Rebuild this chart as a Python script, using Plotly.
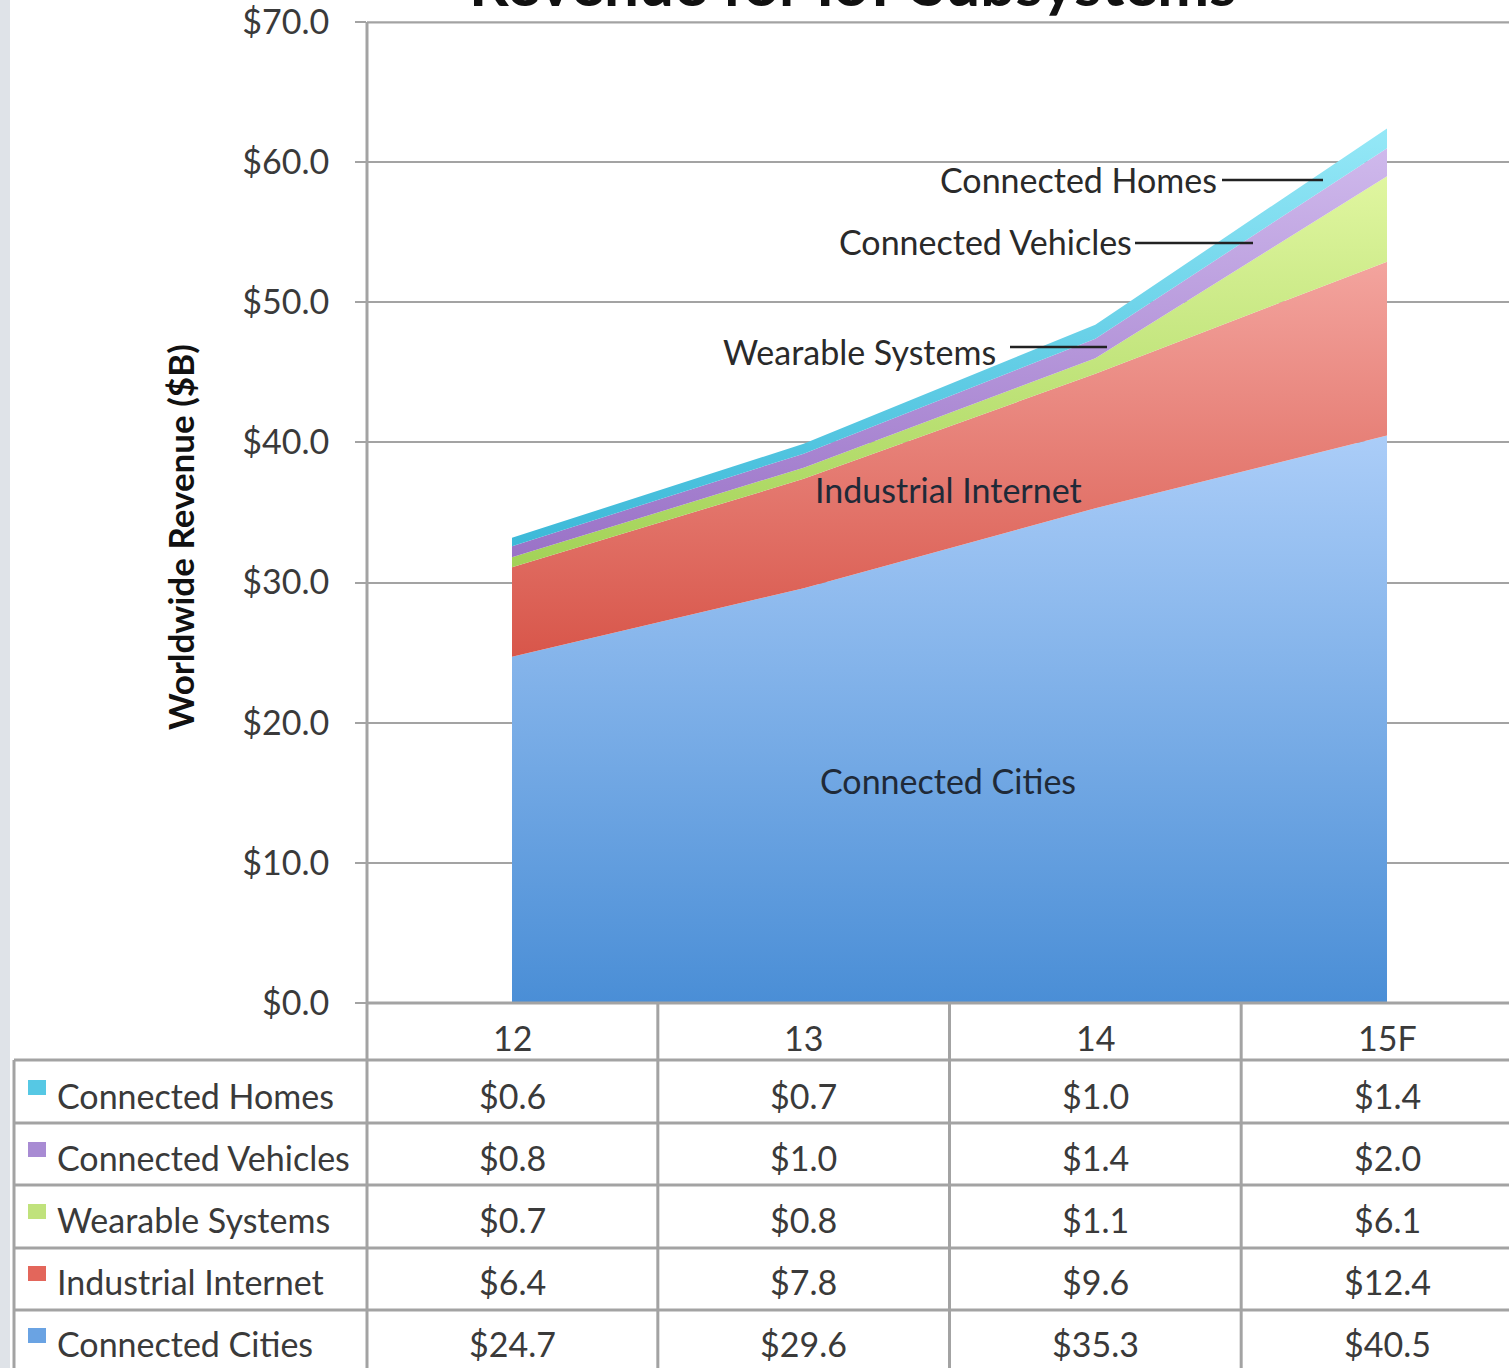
import plotly.graph_objects as go

# ---- data -------------------------------------------------------------
periods = ["12", "13", "14", "15F"]
connected_cities = [24.7, 29.6, 35.3, 40.5]
industrial_internet = [6.4, 7.8, 9.6, 12.4]
wearable_systems = [0.7, 0.8, 1.1, 6.1]
connected_vehicles = [0.8, 1.0, 1.4, 2.0]
connected_homes = [0.6, 0.7, 1.0, 1.4]

y_ticks = [0, 10, 20, 30, 40, 50, 60, 70]
y_tick_labels = [f"${v:.1f}" for v in y_ticks]

# ---- page geometry (pixels) -------------------------------------------
W, H = 1509, 1368
PLOT_LEFT, PLOT_TOP, PLOT_BOTTOM = 367, 22, 1003
Y_MAX = 70
Y_PAD = 0.05  # tiny headroom so the top tick stays inside the axis range
CAT0_X, CAT_STEP = 512, 291.67
TABLE_LEFT = 14
ROW_LINES = [1060, 1123, 1185, 1248, 1310]
ROW_CENTERS = [1096, 1158, 1220, 1282, 1344]
HEADER_Y = 1037

FONT = "Lato"
FS = 34
LABEL = "#3a3a3a"
GRID = "#a3a3a3"

PX_PER_UNIT = (PLOT_BOTTOM - PLOT_TOP) / Y_MAX


def fx(p):
    return p / W


def fy(p):
    return 1 - p / H


x_idx = list(range(len(periods)))
x_lo = (PLOT_LEFT - CAT0_X) / CAT_STEP
x_hi = (W - CAT0_X) / CAT_STEP
top_px = PLOT_TOP - Y_PAD * PX_PER_UNIT

# stacking order (bottom to top) with vertical colour gradients
layers = [
    ("Connected Cities", connected_cities, "#4a8ed6", "#abcdf8"),
    ("Industrial Internet", industrial_internet, "#d8564a", "#f3a49e"),
    ("Wearable Systems", wearable_systems, "#a2d257", "#e0f6a0"),
    ("Connected Vehicles", connected_vehicles, "#9a72c7", "#cfb9ec"),
    ("Connected Homes", connected_homes, "#3cb9d8", "#95e8f7"),
]

fig = go.Figure()
base = [0.0] * len(periods)
for name, vals, c_lo, c_hi in layers:
    top = [b + v for b, v in zip(base, vals)]
    g_start = 0.0 if name == "Connected Cities" else min(base)
    g_stop = max(top)
    fig.add_trace(go.Scatter(
        x=x_idx, y=vals, name=name, stackgroup="one", mode="lines",
        line=dict(width=0),
        fillgradient=dict(type="vertical", start=g_start, stop=g_stop,
                          colorscale=[[0, c_lo], [1, c_hi]]),
        hoverinfo="skip", showlegend=False,
    ))
    base = top

fig.update_layout(
    width=W, height=H, margin=dict(l=0, r=0, t=0, b=0, autoexpand=False),
    paper_bgcolor="white", plot_bgcolor="white",
    font=dict(family=FONT, color=LABEL, size=FS),
    showlegend=False,
    xaxis=dict(domain=[fx(PLOT_LEFT), 1], range=[x_lo, x_hi],
               showticklabels=False, showgrid=False, zeroline=False,
               ticks="", fixedrange=True, automargin=False),
    yaxis=dict(domain=[fy(PLOT_BOTTOM), fy(top_px)], range=[0, Y_MAX + Y_PAD],
               tickvals=y_ticks, ticktext=y_tick_labels,
               showgrid=True, gridcolor=GRID, gridwidth=2,
               zeroline=False, ticks="outside", ticklen=11,
               tickcolor=GRID, tickwidth=2, ticklabelstandoff=19,
               ticklabeloverflow="allow",
               tickfont=dict(family=FONT, size=FS, color=LABEL),
               fixedrange=True, automargin=False),
)

shapes = []
# left page strip
shapes.append(dict(type="rect", xref="paper", yref="paper", x0=0, x1=fx(10),
                   y0=0, y1=1, fillcolor="#dfe3e8", line_width=0, layer="below"))
# top gridline at the axis maximum
shapes.append(dict(type="line", xref="paper", yref="y",
                   x0=fx(PLOT_LEFT), x1=1, y0=Y_MAX, y1=Y_MAX,
                   line=dict(color=GRID, width=3)))
# vertical axis spine down through the table
shapes.append(dict(type="line", xref="paper", yref="paper",
                   x0=fx(PLOT_LEFT), x1=fx(PLOT_LEFT), y0=fy(PLOT_TOP), y1=0,
                   line=dict(color=GRID, width=3)))
# category axis line
shapes.append(dict(type="line", xref="paper", yref="paper",
                   x0=fx(PLOT_LEFT), x1=1, y0=fy(PLOT_BOTTOM), y1=fy(PLOT_BOTTOM),
                   line=dict(color=GRID, width=3)))
# table column separators
for i in range(1, len(periods)):
    xp = CAT0_X + (i - 0.5) * CAT_STEP
    shapes.append(dict(type="line", xref="paper", yref="paper",
                       x0=fx(xp), x1=fx(xp), y0=fy(PLOT_BOTTOM), y1=0,
                       line=dict(color=GRID, width=3)))
# table outer left edge
shapes.append(dict(type="line", xref="paper", yref="paper",
                   x0=fx(TABLE_LEFT), x1=fx(TABLE_LEFT), y0=fy(ROW_LINES[0]), y1=0,
                   line=dict(color=GRID, width=3)))
# table row separators
for yl in ROW_LINES:
    shapes.append(dict(type="line", xref="paper", yref="paper",
                       x0=fx(TABLE_LEFT), x1=1, y0=fy(yl), y1=fy(yl),
                       line=dict(color=GRID, width=3)))

annotations = []
# chart title (runs off the top edge of the page)
annotations.append(dict(text="<b>Revenue for IoT Subsystems</b>", xref="paper",
                        yref="paper", x=fx(853), y=fy(21), xanchor="center",
                        yanchor="bottom", showarrow=False,
                        font=dict(family=FONT, size=62, color="#111111")))
# y axis title
annotations.append(dict(text="<b>Worldwide Revenue ($B)</b>", xref="paper",
                        yref="paper", x=fx(180), y=fy(537), textangle=-90,
                        xanchor="center", yanchor="middle", showarrow=False,
                        font=dict(family=FONT, size=35, color="#111111")))

# header row: period labels
for i, p in enumerate(periods):
    annotations.append(dict(text=p, xref="x", yref="paper", x=i, y=fy(HEADER_Y),
                            xanchor="center", yanchor="middle", showarrow=False,
                            font=dict(family=FONT, size=FS, color=LABEL)))

# data rows: legend key, series name and values
table_rows = [
    ("Connected Homes", connected_homes, "#56c8e4"),
    ("Connected Vehicles", connected_vehicles, "#a88bd3"),
    ("Wearable Systems", wearable_systems, "#c0e27c"),
    ("Industrial Internet", industrial_internet, "#e3665b"),
    ("Connected Cities", connected_cities, "#6aa3e3"),
]
for (name, vals, key), yc in zip(table_rows, ROW_CENTERS):
    shapes.append(dict(type="rect", xref="paper", yref="paper",
                       x0=fx(28), x1=fx(46), y0=fy(yc - 16), y1=fy(yc - 1),
                       fillcolor=key, line_width=0))
    annotations.append(dict(text=name, xref="paper", yref="paper", x=fx(55),
                            y=fy(yc - 1), xanchor="left", yanchor="middle",
                            showarrow=False,
                            font=dict(family=FONT, size=FS, color=LABEL)))
    for i, v in enumerate(vals):
        annotations.append(dict(text=f"${v:.1f}", xref="x", yref="paper", x=i,
                                y=fy(yc - 1), xanchor="center", yanchor="middle",
                                showarrow=False,
                                font=dict(family=FONT, size=FS, color=LABEL)))


# in-chart series labels with leader lines
def px_to_x(p):
    return (p - CAT0_X) / CAT_STEP


def px_to_y(p):
    return (PLOT_BOTTOM - p) / PX_PER_UNIT


callouts = [
    ("Connected Homes", 1219, 180, 180, 1222, 1323),
    ("Connected Vehicles", 1134, 242, 243, 1135, 1253),
    ("Wearable Systems", 998, 352, 347, 1010, 1107),
]
for text, right_px, y_px, ly, l0, l1 in callouts:
    annotations.append(dict(text=text, xref="x", yref="y", x=px_to_x(right_px),
                            y=px_to_y(y_px), xanchor="right", yanchor="middle",
                            showarrow=False, font=dict(family=FONT, size=FS,
                                                       color="#2a2a2a")))
    shapes.append(dict(type="line", xref="x", yref="y", x0=px_to_x(l0),
                       x1=px_to_x(l1), y0=px_to_y(ly), y1=px_to_y(ly),
                       line=dict(color="#222222", width=2.5)))

for text, cx, cy in [("Industrial Internet", 948, 490),
                     ("Connected Cities", 948, 781)]:
    annotations.append(dict(text=text, xref="x", yref="y", x=px_to_x(cx),
                            y=px_to_y(cy), xanchor="center", yanchor="middle",
                            showarrow=False, font=dict(family=FONT, size=FS,
                                                       color="#1f2a38")))

fig.update_layout(shapes=shapes, annotations=annotations)
fig.write_html("out.html")
